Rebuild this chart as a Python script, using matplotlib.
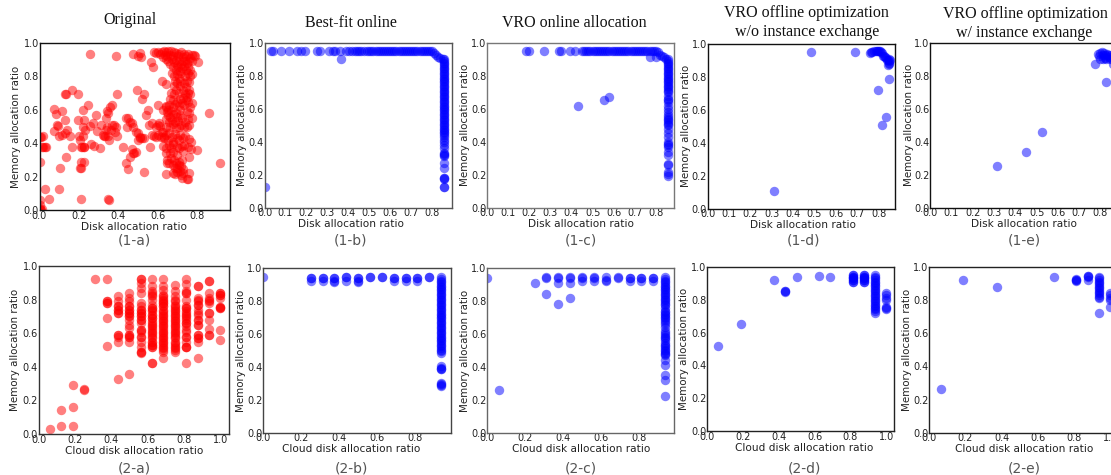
import matplotlib
matplotlib.use("Agg")
import matplotlib.pyplot as plt

W, H = 1111, 475
RED = "#ff0000"
BLUE = "#0000ff"

a1_scatter = [(0.257,0.934),(0.388,0.92),(0.473,0.936),(0.50,0.92),(0.51,0.94),(0.515,0.915),(0.565,0.885),(0.575,0.855),(0.805,0.885),
    (0.62,0.775),(0.643,0.752),(0.497,0.72),(0.53,0.697),(0.52,0.665),(0.165,0.72),(0.197,0.697),(0.135,0.697),(0.13,0.697),(0.392,0.697),
    (0.245,0.632),(0.223,0.60),(0.075,0.605),(0.085,0.573),(0.113,0.593),(0.13,0.537),(0.197,0.537),(0.225,0.54),(0.367,0.632),(0.36,0.615),
    (0.345,0.595),(0.35,0.58),(0.34,0.55),(0.86,0.58),(0.915,0.285),(0.80,0.36),(0.0,0.44),(0.01,0.44),(0.015,0.38),(0.02,0.38),(0.0,0.29),
    (0.005,0.03),(0.0,0.06),(0.0,0.01),(0.015,0.005),(0.027,0.125),(0.05,0.065),(0.10,0.125),(0.102,0.255),(0.0,0.0),(0.01,0.0),(0.02,0.445),
    (0.03,0.38),(0.035,0.38),(0.075,0.475),(0.09,0.51),(0.092,0.505),(0.10,0.445),(0.115,0.45),(0.14,0.48),(0.135,0.32),(0.155,0.445),(0.165,0.38),
    (0.13,0.465),(0.21,0.25),(0.205,0.25),(0.21,0.29),(0.225,0.29),(0.225,0.38),(0.215,0.38),(0.225,0.38),(0.21,0.38),(0.22,0.445),(0.205,0.42),
    (0.2,0.445),(0.22,0.50),(0.23,0.48),(0.26,0.395),(0.275,0.385),(0.285,0.57),(0.29,0.475),(0.27,0.52),(0.255,0.505),(0.305,0.37),(0.31,0.51),
    (0.325,0.45),(0.33,0.445),(0.335,0.445),(0.34,0.48),(0.35,0.445),(0.355,0.42),(0.345,0.50),(0.365,0.48),(0.37,0.51),(0.39,0.50),(0.395,0.445),
    (0.385,0.47),(0.38,0.51),(0.355,0.06),(0.425,0.38),(0.44,0.285),(0.45,0.245),(0.46,0.32),(0.47,0.365),(0.475,0.34),(0.48,0.345),(0.49,0.35),
    (0.50,0.42),(0.51,0.435),(0.52,0.43),(0.53,0.23),(0.54,0.57),(0.55,0.60),(0.56,0.38),(0.57,0.45),(0.58,0.445),(0.59,0.44),(0.60,0.63),
    (0.45,0.55),(0.47,0.52),(0.475,0.50),(0.49,0.47),(0.50,0.46),(0.51,0.44),(0.44,0.55),(0.445,0.50),(0.53,0.43),(0.35,0.065),(0.21,0.07),(0.46,0.53),
    (0.555,0.51),(0.57,0.52),(0.59,0.50),(0.60,0.51),(0.605,0.52),(0.61,0.505),(0.62,0.47),(0.63,0.44),(0.615,0.44),(0.60,0.45),(0.625,0.60),(0.64,0.62),(0.65,0.59)]

a1_dense = [(0.58,0.945),(0.59,0.94),(0.60,0.948),(0.61,0.935),(0.62,0.945),(0.63,0.95),(0.635,0.93),(0.645,0.945),(0.65,0.92),(0.655,0.95),(0.665,0.93),(0.67,0.95),
    (0.68,0.925),(0.685,0.945),(0.695,0.94),(0.705,0.92),(0.71,0.935),(0.72,0.945),(0.73,0.915),(0.735,0.935),(0.745,0.92),(0.755,0.935),(0.765,0.91),(0.775,0.93),(0.785,0.93),(0.79,0.92),
    (0.625,0.915),(0.64,0.905),(0.655,0.895),(0.665,0.875),(0.675,0.905),(0.685,0.885),(0.695,0.90),(0.70,0.87),(0.71,0.895),(0.72,0.875),(0.73,0.89),(0.74,0.895),(0.75,0.88),(0.76,0.895),(0.775,0.89),
    (0.68,0.855),(0.695,0.84),(0.705,0.855),(0.715,0.835),(0.725,0.85),(0.735,0.86),(0.745,0.84),(0.755,0.855),(0.765,0.84),
    (0.675,0.82),(0.685,0.80),(0.70,0.815),(0.71,0.79),(0.72,0.82),(0.74,0.805),(0.755,0.82),(0.765,0.80),(0.775,0.815),(0.69,0.775),(0.70,0.76),(0.715,0.77),(0.735,0.76),(0.75,0.775),(0.76,0.765),
    (0.685,0.74),(0.695,0.72),(0.715,0.745),(0.73,0.72),(0.745,0.735),(0.755,0.70),(0.76,0.72),(0.67,0.70),(0.685,0.695),(0.71,0.70),(0.74,0.695),(0.75,0.675),(0.765,0.695),
    (0.665,0.665),(0.68,0.66),(0.70,0.65),(0.715,0.665),(0.73,0.67),(0.745,0.66),(0.755,0.65),(0.725,0.64),(0.775,0.64),(0.69,0.635),(0.66,0.63),(0.645,0.625),(0.71,0.625),(0.735,0.63),(0.765,0.615),
    (0.655,0.60),(0.67,0.595),(0.68,0.615),(0.695,0.58),(0.715,0.60),(0.75,0.595),(0.655,0.57),(0.665,0.56),(0.68,0.575),(0.70,0.555),(0.715,0.57),(0.725,0.55),(0.755,0.545),(0.775,0.55),(0.76,0.58),
    (0.64,0.545),(0.66,0.53),(0.675,0.54),(0.69,0.525),(0.705,0.535),(0.72,0.51),(0.74,0.53),(0.76,0.51),(0.645,0.50),(0.665,0.495),(0.68,0.515),(0.695,0.49),(0.71,0.50),(0.735,0.495),(0.75,0.50),
    (0.625,0.47),(0.64,0.45),(0.66,0.46),(0.675,0.44),(0.69,0.455),(0.70,0.435),(0.715,0.45),(0.73,0.43),(0.74,0.445),(0.76,0.425),(0.77,0.41),(0.63,0.43),(0.655,0.42),(0.68,0.41),(0.71,0.42),
    (0.625,0.385),(0.645,0.375),(0.66,0.39),(0.67,0.37),(0.68,0.395),(0.70,0.38),(0.71,0.375),(0.725,0.385),(0.735,0.39),(0.755,0.38),(0.645,0.345),(0.665,0.34),(0.68,0.35),(0.70,0.33),(0.73,0.355),(0.76,0.32),(0.77,0.365),
    (0.65,0.30),(0.66,0.285),(0.67,0.31),(0.685,0.30),(0.695,0.28),(0.71,0.29),(0.725,0.30),(0.65,0.285),(0.68,0.27),(0.70,0.255),(0.71,0.27),(0.72,0.265),(0.73,0.245),
    (0.645,0.215),(0.68,0.22),(0.69,0.215),(0.70,0.23),(0.715,0.235),(0.72,0.21),(0.73,0.225),(0.76,0.225),(0.75,0.19),(0.725,0.195),(0.755,0.185),(0.69,0.25)]

b1_top_x = [0.03,0.04,0.08,0.115,0.155,0.175,0.195,0.25,0.265,0.31,0.325,0.335,0.36,0.39,0.405,0.42,0.43,0.44,0.45,0.46,0.475,0.49,0.50,
            0.51,0.52,0.53,0.54,0.55,0.56,0.57,0.58,0.59,0.60,0.61,0.62,0.63,0.64,0.65,0.66,0.67,0.68,0.69,0.70,0.71,0.72,0.73,0.74,0.75,0.76,0.77,0.78,0.79,0.80]
b1_col_y = [0.90,0.89,0.88,0.87,0.86,0.85,0.84,0.83,0.82,0.81,0.80,0.79,0.78,0.77,0.76,0.75,0.74,0.73,0.72,0.71,0.70,0.69,0.68,0.67,0.66,0.65,0.64,0.63,0.62,0.61,0.60,
            0.59,0.58,0.57,0.56,0.55,0.54,0.53,0.52,0.51,0.50,0.49,0.48,0.47,0.46,0.45,0.44,0.43,0.41,0.40,0.38,0.36,0.33,0.325,0.32,0.315,0.27,0.24,0.18,0.18,0.175,0.125,0.125]
b1_other = [(0.0,0.125),(0.365,0.905),(0.81,0.94),(0.82,0.925),(0.83,0.915),(0.84,0.91),(0.85,0.905)]

c1_top_x = [0.185,0.20,0.27,0.34,0.35,0.395,0.415,0.45,0.46,0.47,0.48,0.49,0.50,0.51,0.52,0.53,0.54,0.55,0.56,0.57,0.58,0.59,0.60,0.61,0.62,
            0.63,0.64,0.65,0.66,0.67,0.68,0.69,0.70,0.71,0.72,0.73,0.74,0.75,0.76,0.77,0.78,0.79,0.80]
c1_col_y = [0.90,0.89,0.88,0.87,0.86,0.85,0.84,0.83,0.82,0.81,0.80,0.79,0.78,0.77,0.76,0.75,0.74,0.73,0.72,0.71,0.70,0.68,0.66,0.655,0.64,0.62,0.60,0.58,0.56,0.55,0.54,0.53,0.52,0.51,0.50,0.48,0.45,
            0.43,0.40,0.385,0.38,0.37,0.34,0.32,0.265,0.26,0.215,0.205,0.19]
c1_other = [(0.43,0.615),(0.555,0.655),(0.58,0.67),(0.77,0.915),(0.80,0.915),(0.81,0.945),(0.82,0.93),(0.83,0.92),(0.84,0.915),(0.85,0.905)]

d1_points = [(0.31,0.11),(0.485,0.95),(0.69,0.95),(0.76,0.945),(0.765,0.95),(0.77,0.95),(0.78,0.955),(0.785,0.955),(0.79,0.955),(0.795,0.955),
    (0.80,0.955),(0.805,0.955),(0.81,0.95),(0.815,0.945),(0.82,0.93),(0.825,0.925),(0.83,0.92),(0.835,0.915),(0.84,0.905),(0.845,0.90),(0.85,0.91),
    (0.85,0.895),(0.85,0.88),(0.845,0.87),(0.85,0.885),(0.855,0.90),(0.795,0.72),(0.815,0.51),(0.835,0.555),(0.85,0.79)]

e1_points = [(0.315,0.255),(0.45,0.335),(0.525,0.46),(0.775,0.87),(0.825,0.765),(0.79,0.935),(0.795,0.92),(0.80,0.905),(0.80,0.94),(0.805,0.945),
    (0.81,0.93),(0.81,0.90),(0.815,0.94),(0.82,0.925),(0.82,0.91),(0.825,0.90),(0.83,0.935),(0.835,0.925),(0.84,0.915),(0.845,0.905),(0.85,0.93),
    (0.855,0.90),(0.86,0.92),(0.865,0.91),(0.87,0.905),(0.875,0.90),(0.88,0.89),(0.86,0.87)]

disk_cols = [0.0625,0.125,0.1875,0.25,0.3125,0.375,0.4375,0.5,0.5625,0.625,0.6875,0.75,0.8125,0.875,0.9375,1.0]
a2_vals = [[0.03],[0.05,0.14],[0.05,0.16,0.29],[0.26,0.27],[0.92],[0.92,0.79,0.78,0.69,0.525,0.79,0.78],
    [0.82,0.79,0.76,0.74,0.72,0.59,0.58,0.55,0.325,0.76,0.74,0.72,0.59],
    [0.84,0.81,0.79,0.76,0.74,0.72,0.70,0.68,0.65,0.63,0.59,0.58,0.55,0.355,0.76,0.74,0.72,0.70,0.59,0.58],
    [0.92,0.90,0.87,0.84,0.78,0.76,0.74,0.72,0.70,0.68,0.66,0.62,0.61,0.58,0.55,0.52,0.49,0.48,0.92,0.74,0.72,0.70,0.68,0.62,0.58,0.49],
    [0.92,0.88,0.85,0.83,0.80,0.77,0.75,0.74,0.71,0.69,0.66,0.64,0.62,0.60,0.58,0.55,0.53,0.515,0.425,0.42,0.84,0.82,0.75,0.73,0.71,0.69,0.67,0.65,0.63,0.61,0.59,0.57,0.55,0.53,0.52],
    [0.92,0.88,0.86,0.83,0.81,0.79,0.78,0.76,0.73,0.71,0.69,0.67,0.65,0.63,0.61,0.59,0.57,0.55,0.53,0.51,0.49,0.455,0.82,0.80,0.78,0.76,0.74,0.72,0.70,0.68,0.66,0.64,0.62,0.60,0.58,0.56,0.54,0.52,0.50],
    [0.885,0.85,0.82,0.79,0.76,0.74,0.72,0.70,0.68,0.66,0.64,0.62,0.60,0.58,0.55,0.53,0.51,0.49,0.80,0.77,0.75,0.73,0.71,0.69,0.67,0.65,0.63,0.61,0.59,0.57,0.54,0.52,0.50],
    [0.92,0.89,0.85,0.84,0.80,0.76,0.75,0.73,0.71,0.69,0.66,0.64,0.61,0.58,0.55,0.52,0.515,0.42,0.84,0.75,0.72,0.70,0.68,0.66,0.62,0.58,0.52],
    [0.88,0.81,0.79,0.77,0.74,0.71,0.68,0.65,0.59,0.57,0.55,0.455,0.88,0.80,0.77,0.72,0.68,0.65,0.59,0.57],
    [0.91,0.84,0.81,0.79,0.72,0.68,0.625,0.59,0.91,0.80,0.78,0.72,0.59],
    [0.84,0.83,0.81,0.755,0.75,0.62,0.56,0.84,0.83,0.755,0.75]]

b2_column = [0.945,0.935,0.925,0.915,0.905,0.895,0.885,0.875,0.865,0.855,0.845,0.835,0.825,0.815,0.805,0.795,0.785,0.775,0.765,0.755,0.745,0.735,0.725,0.715,0.705,0.695,0.685,0.675,0.665,0.655,0.645,0.635,0.625,0.615,0.605,0.595,0.585,0.575,0.565,0.555,0.545,0.535,0.525,0.515,0.505,0.495,0.485,0.405,0.395,0.39,0.385,0.30,0.295,0.29,0.285]
b2_vals = [[],[],[],[0.94,0.94,0.92],[0.94,0.94,0.92],[0.94,0.94,0.92,0.915],[0.945,0.945,0.92],[0.94,0.94,0.92,0.915],[0.945,0.945],[0.945,0.945],[0.94,0.94,0.92],[0.94,0.94,0.92],[0.94,0.94,0.92],[0.945,0.945],b2_column,[]]
b2_extra = [(0.0,0.95)]

c2_column = [0.945,0.935,0.925,0.915,0.905,0.895,0.885,0.875,0.865,0.855,0.845,0.835,0.825,0.815,0.805,0.795,0.785,0.775,0.76,0.74,0.735,0.725,0.715,0.705,0.695,0.685,0.675,0.66,0.64,0.62,0.605,0.595,0.585,0.575,0.565,0.545,0.535,0.525,0.515,0.505,0.495,0.485,0.48,0.475,0.44,0.41,0.35,0.32,0.225]
c2_vals = [[0.26],[],[],[0.91],[0.94,0.945,0.845],[0.945,0.94,0.91,0.78],[0.945,0.94,0.91,0.82],[0.945,0.94,0.92],[0.945,0.94,0.92],[0.945,0.93,0.92],[0.945,0.94],[0.94,0.94,0.92],[0.94,0.94,0.92],[0.94,0.94,0.92],c2_column,[]]
c2_extra = [(0.0,0.94)]

d2_vals = [[0.52],[],[0.65],[],[],[0.92],[0.85,0.845,0.85],[0.94],[],[0.945],[0.94],[],[0.95,0.94,0.93,0.92,0.91,0.95,0.94,0.93,0.92,0.91],[0.95,0.94,0.93,0.92,0.91,0.95,0.94,0.93,0.92,0.91],
    [0.95,0.94,0.93,0.92,0.91,0.90,0.89,0.88,0.87,0.86,0.85,0.84,0.83,0.82,0.81,0.80,0.79,0.78,0.77,0.76,0.75,0.74,0.73,0.72],[0.84,0.83,0.81,0.80,0.755,0.75,0.745]]

e2_vals = [[0.265],[],[0.92],[],[],[0.875],[],[],[],[],[0.935],[],[0.925,0.92,0.915,0.92],[0.945,0.94,0.945,0.92],
    [0.94,0.93,0.92,0.91,0.90,0.89,0.88,0.87,0.86,0.85,0.84,0.83,0.82,0.81,0.72],[0.84,0.83,0.81,0.80,0.755]]

xt1 = [0.0,0.1,0.2,0.3,0.4,0.5,0.6,0.7,0.8]
xt2 = [0.0,0.2,0.4,0.6,0.8]
xt3 = [0.0,0.2,0.4,0.6,0.8,1.0]
yt = [0.0,0.2,0.4,0.6,0.8,1.0]

def cols(vals, extra=()):
    pts = list(extra)
    for c, v in zip(disk_cols, vals):
        pts += [(c, y) for y in v]
    return pts

def top_col(top, col, other, top_y=0.95, col_x=0.855):
    return [(x, top_y) for x in top] + [(col_x, y) for y in col] + list(other)

D = "Disk allocation ratio"
C = "Cloud disk allocation ratio"
panels = [
 (39.5,229.5,43,210.3,0.965,xt2,a1_scatter+a1_dense,RED,D,"(1-a)","#111111",16,134,241),
 (264.5,452,43,207.5,0.895,xt1,top_col(b1_top_x,b1_col_y,b1_other),BLUE,D,"(1-b)","#555555",242,351,241),
 (487,674.3,43,207.5,0.887,xt1,top_col(c1_top_x,c1_col_y,c1_other),BLUE,D,"(1-c)","#777777",465,581,241),
 (707.6,895.2,44,208.7,0.877,xt1,d1_points,BLUE,D,"(1-d)","#111111",686,803,241),
 (930.2,1117.5,43,207.5,0.88,xt1,e1_points,BLUE,D,"(1-e)","#111111",909,1024,241),
 (38.7,229.3,266,434,1.05,xt3,cols(a2_vals),RED,C,"(2-a)","#333333",15,134,468),
 (263.3,450.7,268.3,432.7,0.988,xt2,cols(b2_vals,b2_extra),BLUE,C,"(2-b)","#444444",241,351,468),
 (487,674.3,268.3,432.7,0.985,xt2,cols(c2_vals,c2_extra),BLUE,C,"(2-c)","#666666",465,581,468),
 (707,894.4,266.7,431.3,1.045,xt3,cols(d2_vals),BLUE,C,"(2-d)","#222222",684,804,468),
 (929.3,1117.5,266.7,432.7,1.04,xt3,cols(e2_vals),BLUE,C,"(2-e)","#222222",907,1024,468),
]

fig = plt.figure(figsize=(W/100, H/100), dpi=100)
for l, r, t, b, xmax, xt, pts, color, xl, cap, sp, ylx, cx, capy in panels:
    ax = fig.add_axes([l/W, 1-b/H, (r-l)/W, (b-t)/H])
    ax.scatter([p[0] for p in pts], [p[1] for p in pts], s=46, c=color, alpha=0.5, linewidths=0)
    ax.set_xlim(0, xmax)
    ax.set_ylim(0, 1)
    ax.set_xticks(xt)
    ax.set_yticks(yt)
    ax.tick_params(length=0, pad=0.5, labelsize=7, labelcolor="#222222")
    for s in ax.spines.values():
        s.set_color(sp)
        s.set_linewidth(1.0)
    fig.text(cx/W, 1-(b+16.5)/H, xl, ha="center", va="center", fontsize=7.6, color="#222222")
    fig.text(ylx/W, 1-((t+b)/2)/H, "Memory allocation ratio", rotation=90, ha="center", va="center", fontsize=7.4, color="#222222")
    fig.text(cx/W, 1-capy/H, cap, ha="center", va="center", fontsize=10, color="#555555")

serif = ["Liberation Serif", "DejaVu Serif"]
titles = [(130,20,"Original"),(351,23,"Best-fit online"),(574,23,"VRO online allocation"),
          (806,13,"VRO offline optimization"),(807,32,"w/o instance exchange"),
          (1025,14,"VRO offline optimization"),(1024.5,33,"w/ instance exchange")]
for x, y, s in titles:
    fig.text(x/W, 1-y/H, s, ha="center", va="center", fontsize=11.5, family=serif, color="#111111")

fig.savefig("out.png", dpi=100)
